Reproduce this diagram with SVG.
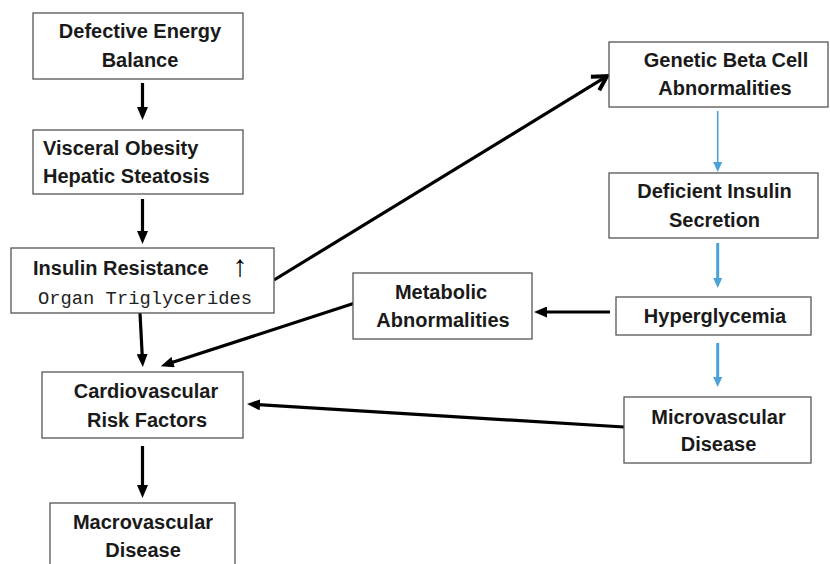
<svg xmlns="http://www.w3.org/2000/svg" width="830" height="564" viewBox="0 0 830 564">
<style>
.box{fill:#fff;stroke:#555;stroke-width:1.3}
.t{font-family:"Liberation Sans",Arial,sans-serif;font-weight:bold;font-size:20px;fill:#1a1a1a;text-anchor:middle}
.tl{text-anchor:start}
.mono{font-family:"Liberation Mono","Courier New",monospace;font-size:18.8px;fill:#222}
.blk{stroke:#000;stroke-width:3.2;fill:none}
.blu{stroke:#4aa3d8;fill:none}
</style>
<defs>
<marker id="ah" markerUnits="userSpaceOnUse" viewBox="0 0 13 11" refX="7" refY="5.5" markerWidth="13" markerHeight="11" orient="auto">
<path d="M0,0 L13,5.5 L0,11 z" fill="#000"/>
</marker>
<marker id="bh" markerUnits="userSpaceOnUse" viewBox="0 0 10 9" refX="5" refY="4.5" markerWidth="10" markerHeight="9" orient="auto">
<path d="M0,0 L10,4.5 L0,9 z" fill="#4aa3d8"/>
</marker>
<marker id="oh" markerUnits="userSpaceOnUse" viewBox="-3 -3 20 22" refX="14" refY="8" markerWidth="20" markerHeight="22" orient="auto" overflow="visible">
<path d="M0,0 L14,8 L0,16" fill="none" stroke="#000" stroke-width="4" stroke-linejoin="miter"/>
</marker>
</defs>
<g id="connectors">
<line class="blk" x1="142.5" y1="83" x2="142.5" y2="114" marker-end="url(#ah)"/>
<line class="blk" x1="142.5" y1="199" x2="142.5" y2="238" marker-end="url(#ah)"/>
<line class="blk" x1="140" y1="313" x2="142.5" y2="361" marker-end="url(#ah)"/>
<line class="blk" x1="142.5" y1="446" x2="142.5" y2="492" marker-end="url(#ah)"/>
<line class="blk" x1="274" y1="280" x2="607" y2="76.2" stroke-width="4" marker-end="url(#oh)"/>
<line class="blk" x1="355" y1="303" x2="166.5" y2="364.3" marker-end="url(#ah)"/>
<line class="blk" x1="624" y1="427" x2="253" y2="404.4" marker-end="url(#ah)"/>
<line class="blk" x1="610" y1="312" x2="540" y2="312" marker-end="url(#ah)"/>
<line class="blu" stroke-width="1.6" x1="717.7" y1="111" x2="717.7" y2="167" marker-end="url(#bh)"/>
<line class="blu" stroke-width="3" x1="717.7" y1="243" x2="717.7" y2="283" marker-end="url(#bh)"/>
<line class="blu" stroke-width="3" x1="717.7" y1="343" x2="717.7" y2="382" marker-end="url(#bh)"/>
</g>
<g id="n1">
<rect class="box" x="33" y="13" width="210" height="66"/>
<text class="t" x="140" y="38">Defective Energy</text>
<text class="t" x="140" y="67">Balance</text>
</g>
<g id="n2">
<rect class="box" x="33" y="130" width="210" height="64"/>
<text class="t tl" x="43" y="155">Visceral Obesity</text>
<text class="t tl" x="43" y="183">Hepatic Steatosis</text>
</g>
<g id="n3">
<rect class="box" x="11" y="248" width="263" height="65"/>
<text class="t tl" x="33" y="275">Insulin Resistance</text>
<text x="240" y="276" font-family="'Liberation Sans',Arial,sans-serif" font-size="30" fill="#000" text-anchor="middle">↑</text>
<text class="mono" x="38" y="304">Organ Triglycerides</text>
</g>
<g id="n4">
<rect class="box" x="42" y="372" width="201" height="66"/>
<text class="t" x="146" y="398">Cardiovascular</text>
<text class="t" x="147" y="427">Risk Factors</text>
</g>
<g id="n5">
<rect class="box" x="50" y="503" width="185" height="70"/>
<text class="t" x="143" y="529">Macrovascular</text>
<text class="t" x="143" y="557">Disease</text>
</g>
<g id="n6">
<rect class="box" x="609" y="42" width="219" height="65"/>
<text class="t" x="726" y="67">Genetic Beta Cell</text>
<text class="t" x="725" y="95">Abnormalities</text>
</g>
<g id="n7">
<rect class="box" x="609" y="173" width="209" height="65"/>
<text class="t" x="714.5" y="198">Deficient Insulin</text>
<text class="t" x="714.5" y="227">Secretion</text>
</g>
<g id="n8">
<rect class="box" x="353" y="273" width="179" height="66"/>
<text class="t" x="441" y="299">Metabolic</text>
<text class="t" x="443" y="327">Abnormalities</text>
</g>
<g id="n9">
<rect class="box" x="616" y="297" width="195" height="38"/>
<text class="t" x="715" y="323">Hyperglycemia</text>
</g>
<g id="n10">
<rect class="box" x="624" y="397" width="187" height="66"/>
<text class="t" x="718.5" y="424">Microvascular</text>
<text class="t" x="718.5" y="451">Disease</text>
</g>
</svg>
